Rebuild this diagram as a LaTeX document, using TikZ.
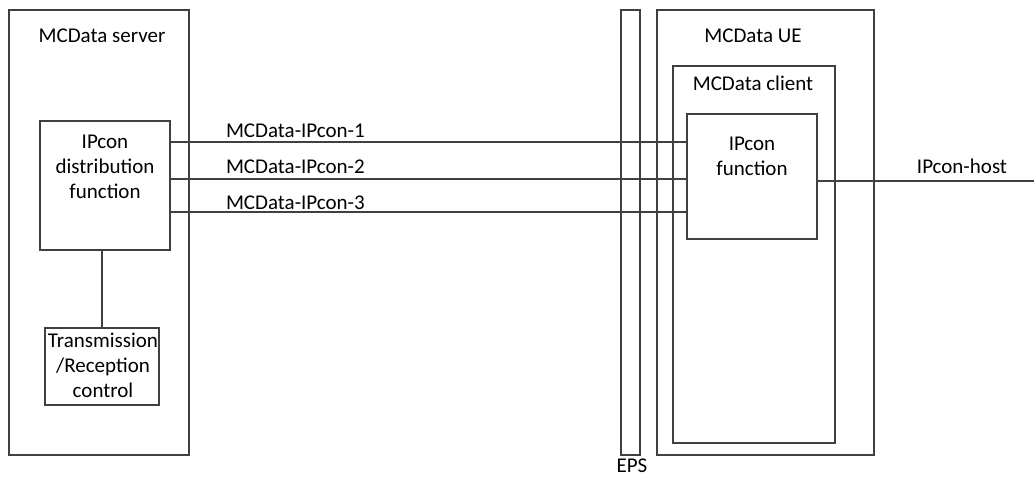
\documentclass[tikz,border=0pt]{standalone}
\usepackage{fontspec}
\setmainfont{Carlito}
\begin{document}
\begin{tikzpicture}[x=1pt,y=-1pt,
  every node/.style={inner sep=0pt,outer sep=0pt},
  box/.style={draw=linecol,line width=1.3pt,rectangle,anchor=center},
  lbl/.style={anchor=base,font=\fontsize{21}{25}\selectfont,text=black},
  conn/.style={draw=linecol,line width=1.3pt}]
\definecolor{linecol}{RGB}{64,64,64}
\useasboundingbox (0,0) rectangle (1034,477);
% boxes
\node[box,minimum width=180pt,minimum height=445pt] (server) at (99,232.5) {};
\node[box,minimum width=130pt,minimum height=129pt] (dist) at (105,185.5) {};
\node[box,minimum width=114pt,minimum height=77pt] (trans) at (102,366.5) {};
\node[box,minimum width=19pt,minimum height=445pt] (eps) at (630.5,232.5) {};
\node[box,minimum width=217pt,minimum height=445pt] (ue) at (765.5,232.5) {};
\node[box,minimum width=162pt,minimum height=377pt] (client) at (754,254.5) {};
\node[box,minimum width=130pt,minimum height=125pt] (ipf) at (752,176.5) {};
% texts
\node[lbl] (tserver) at (102,42) {MCData server};
\node[lbl] (tue) at (753,42) {MCData UE};
\node[lbl] (tclient) at (753,90) {MCData client};
\node[lbl] (td1) at (105,148) {IPcon};
\node[lbl] (td2) at (105,173) {distribution};
\node[lbl] (td3) at (105,198) {function};
\node[lbl] (tt1) at (103,347) {Transmission};
\node[lbl] (tt2) at (103,372) {/Reception};
\node[lbl] (tt3) at (103,397) {control};
\node[lbl] (tf1) at (752,150) {IPcon};
\node[lbl] (tf2) at (752,175) {function};
\node[lbl] (teps) at (632,472) {EPS};
\node[lbl] (thost) at (962,173) {IPcon-host};
\node[lbl,anchor=base west] (l1) at (226,137) {MCData-IPcon-1};
\node[lbl,anchor=base west] (l2) at (226,173) {MCData-IPcon-2};
\node[lbl,anchor=base west] (l3) at (226,209) {MCData-IPcon-3};
% connector levels
\coordinate (y1) at (0,142);
\coordinate (y2) at (0,179);
\coordinate (y3) at (0,212);
\coordinate (yh) at (0,181);
\coordinate (hostend) at (1034,181);
% connectors
\draw[conn] (dist.east |- y1) -- (ipf.west |- y1);
\draw[conn] (dist.east |- y2) -- (ipf.west |- y2);
\draw[conn] (dist.east |- y3) -- (ipf.west |- y3);
\draw[conn] (ipf.east |- yh) -- (hostend);
\draw[conn] (dist.south -| trans.north) -- (trans.north);
\end{tikzpicture}
\end{document}
